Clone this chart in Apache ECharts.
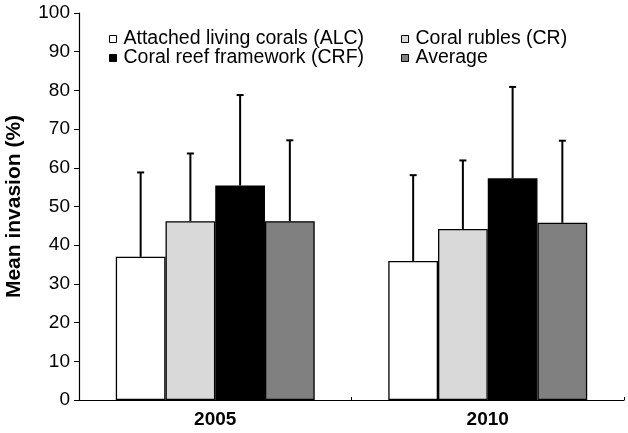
<!DOCTYPE html>
<html>
<head>
<meta charset="utf-8">
<script src="https://cdn.jsdelivr.net/npm/echarts@6/dist/echarts.min.js"></script>
<style>html,body{margin:0;padding:0;background:#fff;}#c{width:628px;height:433px;}</style>
</head>
<body>
<div id="c"></div>
<script>
const categories = ['2005', '2010'];
const seriesNames = ['Attached living corals (ALC)', 'Coral rubles (CR)', 'Coral reef framework (CRF)', 'Average'];
const alcMean = [37.0, 35.9];
const alcSd = [21.8, 22.2];
const crMean = [46.2, 44.2];
const crSd = [17.5, 17.7];
const crfMean = [55.4, 57.3];
const crfSd = [23.4, 23.6];
const avgMean = [46.2, 45.8];
const avgSd = [20.9, 21.2];
const yTicks = [0, 10, 20, 30, 40, 50, 60, 70, 80, 90, 100];

const means = [alcMean, crMean, crfMean, avgMean];
const sds = [alcSd, crSd, crfSd, avgSd];
const colors = ['#ffffff', '#d9d9d9', '#000000', '#808080'];
const FONT = 'Liberation Sans, Arial, sans-serif';
const GAP = 0.27;

const chart = echarts.init(document.getElementById('c'));

const barSeries = means.map((m, i) => ({
  type: 'bar',
  name: seriesNames[i],
  data: m,
  barGap: '0%',
  barCategoryGap: (GAP * 100) + '%',
  itemStyle: { color: colors[i], borderColor: '#000', borderWidth: 1.3 },
  z: 2
}));

const errSeries = sds.map((sd, i) => ({
  type: 'custom',
  name: 'err' + i,
  data: sd.map((s, k) => [k, means[i][k], s]),
  z: 5,
  silent: true,
  renderItem: function (params, api) {
    const x = api.value(0), v = api.value(1), e = api.value(2);
    const base = api.coord([x, v]);
    const top = api.coord([x, v + e]);
    const catW = api.size([1, 0])[0];
    const barW = catW * (1 - GAP) / 4;
    const cx = base[0] + (i - 1.5) * barW;
    const style = { stroke: '#000', lineWidth: 2 };
    return {
      type: 'group',
      children: [
        { type: 'line', shape: { x1: cx, y1: base[1], x2: cx, y2: top[1] }, style: style },
        { type: 'line', shape: { x1: cx - 3.5, y1: top[1], x2: cx + 3.5, y2: top[1] }, style: style }
      ]
    };
  }
}));

const legendPos = [
  { left: 109, top: 29 },
  { left: 401, top: 29 },
  { left: 109, top: 48 },
  { left: 401, top: 48 }
];

const option = {
  animation: false,
  backgroundColor: '#fff',
  textStyle: { fontFamily: FONT },
  grid: { left: 79, right: 4, top: 13, bottom: 33, containLabel: false, outerBoundsMode: 'none' },
  legend: seriesNames.map((n, i) => ({
    data: [n],
    left: legendPos[i].left,
    top: legendPos[i].top,
    orient: 'horizontal',
    icon: 'rect',
    itemWidth: 7,
    itemHeight: 7,
    itemGap: 0,
    padding: 0,
    selectedMode: false,
    itemStyle: { borderColor: '#000', borderWidth: 1 },
    textStyle: { fontFamily: FONT, fontSize: 19.5, color: '#000', padding: [0, 0, 0, 2] }
  })),
  xAxis: {
    type: 'category',
    data: categories,
    axisLine: { lineStyle: { color: '#000', width: 1.2 } },
    axisTick: { show: true, inside: true, length: 3, lineStyle: { color: '#000' } },
    axisLabel: { color: '#000', fontFamily: FONT, fontSize: 19, fontWeight: 'bold', margin: 10 },
    splitLine: { show: false }
  },
  yAxis: {
    type: 'value',
    min: 0,
    max: 100,
    interval: 10,
    name: 'Mean invasion (%)',
    nameLocation: 'middle',
    nameGap: 54,
    nameTextStyle: { color: '#000', fontFamily: FONT, fontSize: 21, fontWeight: 'bold' },
    axisLine: { show: true, lineStyle: { color: '#000', width: 1.2 } },
    axisTick: { show: true, inside: false, length: 5, lineStyle: { color: '#000' } },
    axisLabel: {
      color: '#000', fontFamily: FONT, fontSize: 19, margin: 9,
      formatter: function (v) { return yTicks.indexOf(v) >= 0 ? String(v) : ''; }
    },
    splitLine: { show: false }
  },
  series: barSeries.concat(errSeries)
};
chart.setOption(option);
</script>
</body>
</html>
